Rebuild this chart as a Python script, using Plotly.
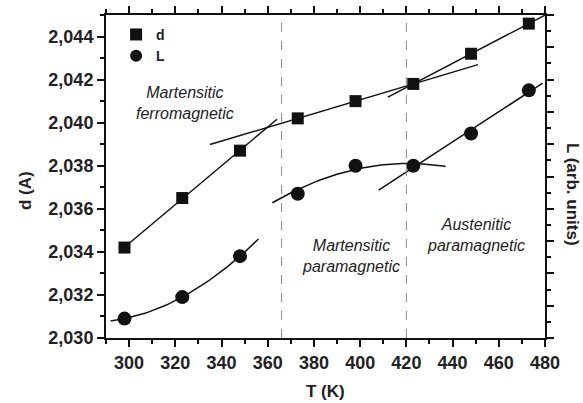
import numpy as np
import plotly.graph_objects as go

# ---- data ----
T = [298, 323, 348, 373, 398, 423, 448, 473]
d_vals = [2.0342, 2.0365, 2.0387, 2.0402, 2.0410, 2.0418, 2.0432, 2.0446]
L_vals = [2.0309, 2.0319, 2.0338, 2.0367, 2.0380, 2.0380, 2.0395, 2.0415]

# fitted curve of L in the martensitic paramagnetic range
L_fit2_T = [373, 398, 423]
L_fit2_vals = [2.0369, 2.03783, 2.0381]

# fit segments: series, point indices, polynomial degree, T start, T end
fit_series = ["d", "d", "d", "L", "L2", "L"]
fit_points = [[0, 1, 2], [3, 4, 5], [5, 6, 7], [0, 1, 2], [0, 1, 2], [5, 6, 7]]
fit_degree = [1, 1, 1, 2, 2, 1]
fit_start = [298, 335, 412, 292, 362, 408]
fit_end = [364, 451, 481, 356, 437, 479]

boundaries = [366, 420]

region_labels = ["Martensitic<br>ferromagnetic", "Martensitic<br>paramagnetic", "Austenitic<br>paramagnetic"]
region_x = [324, 396, 450]
region_y = [2.0409, 2.0338, 2.0348]

x_range = [290, 480]
y_range = [2.030, 2.045]
y2_range = [0, 10]

FONT = "Liberation Sans, Arial, Helvetica, sans-serif"
INK = "#222222"

# ---- figure ----
fig = go.Figure()
series = {"d": (T, d_vals), "L": (T, L_vals), "L2": (L_fit2_T, L_fit2_vals)}
for s, idx, deg, t0, t1 in zip(fit_series, fit_points, fit_degree, fit_start, fit_end):
    sx, sy = series[s]
    xs = np.array([sx[i] for i in idx], dtype=float)
    ys = np.array([sy[i] for i in idx], dtype=float)
    coef = np.polyfit(xs, ys, deg)
    tt = np.linspace(t0, t1, 60)
    fig.add_trace(go.Scatter(x=tt, y=np.polyval(coef, tt), mode="lines",
                             line=dict(color="#111111", width=1.5),
                             showlegend=False, hoverinfo="skip"))

fig.add_trace(go.Scatter(x=T, y=d_vals, mode="markers", name="<b>d</b>",
                         marker=dict(symbol="square", size=12, color="#111111")))
fig.add_trace(go.Scatter(x=T, y=L_vals, mode="markers", name="<b>L</b>",
                         marker=dict(symbol="circle", size=14, color="#111111")))
# dummy trace to activate right axis
fig.add_trace(go.Scatter(x=[None], y=[None], yaxis="y2", showlegend=False, hoverinfo="skip"))

for b in boundaries:
    fig.add_shape(type="line", x0=b, x1=b, y0=0, y1=1, xref="x", yref="paper",
                  line=dict(color="#888888", width=1, dash="dash"))

for txt, xx, yy in zip(region_labels, region_x, region_y):
    fig.add_annotation(x=xx, y=yy, text="<i>" + txt + "</i>", showarrow=False,
                       font=dict(family=FONT, size=16, color=INK), align="center")

# axis titles
fig.add_annotation(x=-0.1845, y=0.455, xref="paper", yref="paper", text="<b>d (A)</b>",
                   xanchor="center", yanchor="middle",
                   textangle=-90, showarrow=False, font=dict(family=FONT, size=17, color=INK))
fig.add_annotation(x=1.0615, y=0.443, xref="paper", yref="paper", text="<b>L (arb. units)</b>",
                   xanchor="center", yanchor="middle",
                   textangle=90, showarrow=False, font=dict(family=FONT, size=17, color=INK))
fig.add_annotation(x=0.499, y=-0.167, xref="paper", yref="paper", text="<b>T (K)</b>",
                   xanchor="center", yanchor="middle",
                   showarrow=False, font=dict(family=FONT, size=17, color=INK))

tickfont = dict(family=FONT, size=18, color=INK)
fig.update_layout(
    width=583, height=403,
    margin=dict(l=106, r=38, t=15, b=65, autoexpand=False),
    plot_bgcolor="white", paper_bgcolor="white",
    separators=",.",
    font=dict(family=FONT, color=INK),
    showlegend=True,
    legend=dict(x=0.023, y=0.988, xanchor="left", yanchor="top", itemsizing="constant",
                bgcolor="rgba(0,0,0,0)", tracegroupgap=0,
                font=dict(family=FONT, size=14, color=INK)),
    xaxis=dict(range=x_range, dtick=20, tick0=300, showgrid=False, zeroline=False, automargin=False,
               showline=True, linecolor="#111111", linewidth=2, mirror="ticks",
               ticks="outside", ticklen=7, tickwidth=2, tickcolor="#111111",
               minor=dict(dtick=10, ticks="outside", ticklen=4, tickwidth=1.5, tickcolor="#111111"),
               tickfont=tickfont, tickprefix="<b>", ticksuffix="</b>"),
    yaxis=dict(range=y_range, dtick=0.002, tick0=2.030, tickformat=".3f", automargin=False,
               showgrid=False, zeroline=False,
               showline=True, linecolor="#111111", linewidth=2,
               ticks="outside", ticklen=7, tickwidth=2, tickcolor="#111111",
               minor=dict(dtick=0.001, ticks="outside", ticklen=4, tickwidth=1.5, tickcolor="#111111"),
               tickfont=tickfont, tickprefix="<b>", ticksuffix="</b>"),
    yaxis2=dict(range=y2_range, overlaying="y", side="right", dtick=1, automargin=False,
                showgrid=False, zeroline=False, showticklabels=False,
                showline=True, linecolor="#111111", linewidth=2,
                ticks="outside", ticklen=7, tickwidth=2, tickcolor="#111111",
                minor=dict(dtick=0.5, ticks="outside", ticklen=4, tickwidth=1.5, tickcolor="#111111")),
)

fig.write_html("out.html", config={"displayModeBar": False},
               post_script="document.body.style.margin='0';document.body.style.overflow='hidden';")
